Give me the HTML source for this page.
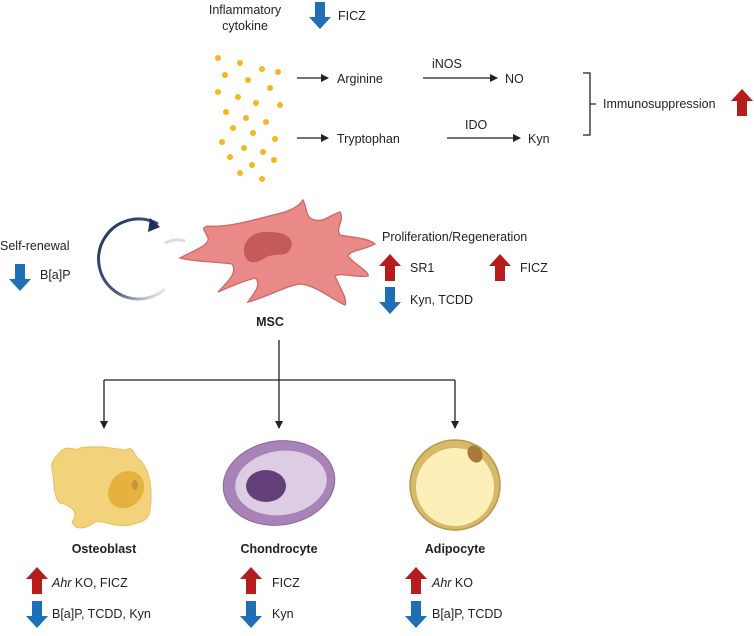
<!DOCTYPE html>
<html><head><meta charset="utf-8"><style>
body{margin:0;background:#fff;}
svg text{font-family:"Liberation Sans",sans-serif;font-size:12.5px;fill:#222;}
.b{font-weight:bold;}
</style></head><body>
<svg width="754" height="631" viewBox="0 0 754 631" xmlns="http://www.w3.org/2000/svg">
<defs>
<marker id="ah" markerWidth="8" markerHeight="8" refX="7" refY="4" orient="auto" markerUnits="userSpaceOnUse"><path d="M0,0 L8,4 L0,8 Z" fill="#222"/></marker>
<g id="up"><path d="M-11,12 L0,0 L11,12 L5,12 L5,27 L-5,27 L-5,12 Z" fill="#b71c1c"/></g>
<g id="dn"><path d="M-5,0 L5,0 L5,15 L11,15 L0,27 L-11,15 L-5,15 Z" fill="#1e6fb5"/></g>
<linearGradient id="cg" x1="0" y1="0" x2="1" y2="1"><stop offset="0" stop-color="#1d2f5c"/><stop offset="0.6" stop-color="#4a5a80"/><stop offset="1" stop-color="#fff"/></linearGradient>
</defs>
<text x="245" y="14" text-anchor="middle">Inflammatory</text>
<text x="245" y="30" text-anchor="middle">cytokine</text>
<use href="#dn" x="320" y="2"/>
<text x="338" y="20">FICZ</text>
<g fill="#f2b81c">
<circle cx="218" cy="58" r="3"/><circle cx="240" cy="63" r="3"/><circle cx="262" cy="69" r="3"/><circle cx="278" cy="72" r="3"/>
<circle cx="225" cy="75" r="3"/><circle cx="248" cy="80" r="3"/><circle cx="270" cy="88" r="3"/><circle cx="218" cy="92" r="3"/>
<circle cx="238" cy="97" r="3"/><circle cx="256" cy="103" r="3"/><circle cx="280" cy="105" r="3"/><circle cx="226" cy="112" r="3"/>
<circle cx="246" cy="118" r="3"/><circle cx="266" cy="122" r="3"/><circle cx="233" cy="128" r="3"/><circle cx="253" cy="133" r="3"/>
<circle cx="275" cy="139" r="3"/><circle cx="222" cy="142" r="3"/><circle cx="244" cy="148" r="3"/><circle cx="263" cy="152" r="3"/>
<circle cx="230" cy="157" r="3"/><circle cx="252" cy="165" r="3"/><circle cx="274" cy="160" r="3"/><circle cx="240" cy="173" r="3"/><circle cx="262" cy="179" r="3"/>
</g>
<g stroke="#222" stroke-width="1.3" marker-end="url(#ah)">
<line x1="297" y1="78" x2="328" y2="78"/><line x1="423" y1="78" x2="497" y2="78"/>
<line x1="297" y1="138" x2="328" y2="138"/><line x1="447" y1="138" x2="520" y2="138"/>
</g>
<text x="337" y="83">Arginine</text><text x="432" y="68">iNOS</text><text x="505" y="83">NO</text>
<text x="337" y="143">Tryptophan</text><text x="465" y="129">IDO</text><text x="528" y="143">Kyn</text>
<path d="M583,73 L590,73 L590,135 L583,135 M590,104 L596,104" fill="none" stroke="#222" stroke-width="1.3"/>
<text x="603" y="108">Immunosuppression</text>
<use href="#up" x="742" y="89"/>
<text x="0" y="250">Self-renewal</text>
<use href="#dn" x="20" y="264"/>
<text x="40" y="279">B[a]P</text>
<path d="M165,289 A40,40 0 1 1 158,224" fill="none" stroke="url(#cg)" stroke-width="3"/>
<path d="M150,218 L160,227 L148,232 Z" fill="#1d2f5c"/>
<path d="M165,243 Q175,238 185,241" stroke="#ddd" stroke-width="3" fill="none"/>
<path d="M180,258 C195,250 210,245 208,238 C205,230 200,228 208,226 C230,228 260,218 285,212 C295,208 300,205 303,200 C308,210 305,218 315,220 C325,222 330,215 340,212 C345,220 335,228 340,235 C355,238 368,238 375,244 C365,250 350,250 348,256 C355,265 370,272 368,276 C355,278 340,272 335,276 C340,288 348,300 345,305 C330,298 315,285 300,284 C285,286 265,298 248,302 C255,292 262,284 255,278 C240,282 228,288 218,292 C228,282 238,272 232,264 C220,262 195,262 180,258 Z" fill="#e98a88" stroke="#cf6665" stroke-width="1.3"/>
<path d="M245,256 C240,240 255,230 270,232 C290,232 295,242 290,250 C285,258 275,252 265,258 C255,264 248,264 245,256 Z" fill="#c55a5a"/>
<text x="270" y="326" text-anchor="middle" class="b">MSC</text>
<text x="382" y="241">Proliferation/Regeneration</text>
<use href="#up" x="390" y="254"/><text x="410" y="272">SR1</text>
<use href="#up" x="500" y="254"/><text x="520" y="272">FICZ</text>
<use href="#dn" x="390" y="287"/><text x="410" y="304">Kyn, TCDD</text>
<path d="M279,340 L279,380 M104,380 L455,380" stroke="#222" stroke-width="1.3" fill="none"/>
<g stroke="#222" stroke-width="1.3" marker-end="url(#ah)">
<line x1="104" y1="380" x2="104" y2="428"/><line x1="279" y1="380" x2="279" y2="428"/><line x1="455" y1="380" x2="455" y2="428"/>
</g>
<path d="M62,450 C70,445 75,452 80,448 C95,445 110,448 125,450 C135,445 132,455 140,460 C150,470 153,490 150,510 C148,522 140,522 130,525 C115,528 105,520 95,522 C85,530 75,530 72,522 C80,512 70,505 60,503 C52,495 55,480 52,470 C50,460 58,455 62,450 Z" fill="#f2d27a" stroke="#e6c060" stroke-width="1"/>
<path d="M110,485 C115,470 135,465 143,480 C148,495 135,510 120,508 C108,505 106,495 110,485 Z" fill="#e6b23e"/>
<ellipse cx="135" cy="485" rx="3" ry="5" fill="#c9913a"/>
<ellipse cx="279" cy="483" rx="56" ry="42" transform="rotate(-8 279 483)" fill="#a783b8" stroke="#8a66a0" stroke-width="1"/>
<ellipse cx="281" cy="483" rx="46" ry="32" transform="rotate(-8 281 483)" fill="#dccde5"/>
<ellipse cx="266" cy="486" rx="20" ry="16" fill="#64407a"/>
<circle cx="455" cy="485" r="45" fill="#d6b969" stroke="#b8984a" stroke-width="1.5"/>
<circle cx="455" cy="487" r="39" fill="#fcefb8"/>
<ellipse cx="475" cy="454" rx="7" ry="9" transform="rotate(-30 475 454)" fill="#a87a3a"/>
<text x="104" y="553" text-anchor="middle" class="b">Osteoblast</text>
<text x="279" y="553" text-anchor="middle" class="b">Chondrocyte</text>
<text x="455" y="553" text-anchor="middle" class="b">Adipocyte</text>
<use href="#up" x="37" y="567"/><text x="52" y="587"><tspan font-style="italic">Ahr</tspan> KO, FICZ</text>
<use href="#dn" x="37" y="601"/><text x="52" y="618">B[a]P, TCDD, Kyn</text>
<use href="#up" x="251" y="567"/><text x="272" y="587">FICZ</text>
<use href="#dn" x="251" y="601"/><text x="272" y="618">Kyn</text>
<use href="#up" x="416" y="567"/><text x="432" y="587"><tspan font-style="italic">Ahr</tspan> KO</text>
<use href="#dn" x="416" y="601"/><text x="432" y="618">B[a]P, TCDD</text>
</svg>
</body></html>
